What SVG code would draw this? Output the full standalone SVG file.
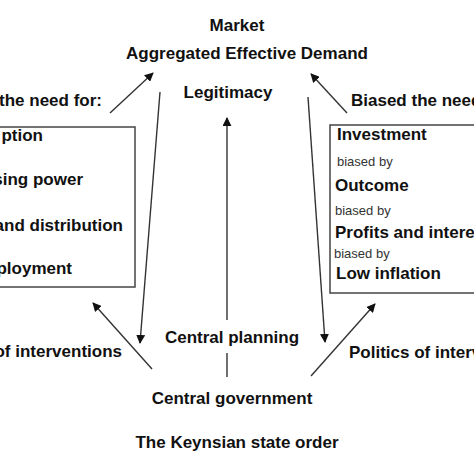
<svg xmlns="http://www.w3.org/2000/svg" width="474" height="474" viewBox="0 0 474 474">
<style>
.b{font-family:"Liberation Sans",Arial,sans-serif;font-weight:bold;font-size:17px;fill:#111}
.r{font-family:"Liberation Sans",Arial,sans-serif;font-size:13px;fill:#333}
.ln{stroke:#333;stroke-width:1.4;fill:none}
.box{stroke:#444;stroke-width:1.5;fill:#fff}
</style>
<defs>
<marker id="ah" viewBox="0 0 10 10" refX="9" refY="5" markerWidth="9" markerHeight="9" markerUnits="userSpaceOnUse" orient="auto">
<path d="M0,0 L10,5 L0,10 z" fill="#111"/>
</marker>
</defs>
<rect width="474" height="474" fill="#fff"/>
<g id="title-top">
<text class="b" x="237" y="31" text-anchor="middle">Market</text>
<text class="b" x="247" y="59" text-anchor="middle">Aggregated Effective Demand</text>
<text class="b" x="228" y="98" text-anchor="middle">Legitimacy</text>
</g>
<g id="label-left-top"><text class="b" x="102" y="106" text-anchor="end">the need for:</text></g>
<g id="label-right-top"><text class="b" x="351" y="106">Biased the need for:</text></g>
<g id="box-left">
<rect class="box" x="-5" y="127" width="140" height="160"/>
<text class="b" x="43" y="141" text-anchor="end">ption</text>
<text class="b" x="83" y="185" text-anchor="end">sing power</text>
<text class="b" x="123" y="231" text-anchor="end">and distribution</text>
<text class="b" x="72" y="274" text-anchor="end">ployment</text>
</g>
<g id="box-right">
<rect class="box" x="330" y="125" width="160" height="168"/>
<text class="b" x="337" y="140">Investment</text>
<text class="r" x="337" y="166">biased by</text>
<text class="b" x="335" y="191">Outcome</text>
<text class="r" x="335" y="215">biased by</text>
<text class="b" x="335" y="238">Profits and interest</text>
<text class="r" x="334" y="258">biased by</text>
<text class="b" x="336" y="279">Low inflation</text>
</g>
<g id="label-left-bottom"><text class="b" x="122" y="357" text-anchor="end">of interventions</text></g>
<g id="label-right-bottom"><text class="b" x="349" y="358">Politics of interventions</text></g>
<g id="central-planning"><text class="b" x="232" y="343" text-anchor="middle">Central planning</text></g>
<g id="central-government"><text class="b" x="232" y="404" text-anchor="middle">Central government</text></g>
<g id="caption"><text class="b" x="237" y="448" text-anchor="middle">The Keynsian state order</text></g>
<g id="connectors">
<line class="ln" x1="110" y1="113" x2="153" y2="73" marker-end="url(#ah)"/>
<line class="ln" x1="347" y1="113" x2="311" y2="74" marker-end="url(#ah)"/>
<line class="ln" x1="227" y1="377" x2="227" y2="353"/>
<line class="ln" x1="227" y1="320" x2="227" y2="118" marker-end="url(#ah)"/>
<line class="ln" x1="160" y1="92" x2="140" y2="343" marker-end="url(#ah)"/>
<line class="ln" x1="308" y1="97" x2="325" y2="342" marker-end="url(#ah)"/>
<line class="ln" x1="152" y1="369" x2="93" y2="303" marker-end="url(#ah)"/>
<line class="ln" x1="311" y1="376" x2="375" y2="304" marker-end="url(#ah)"/>
</g>
</svg>
